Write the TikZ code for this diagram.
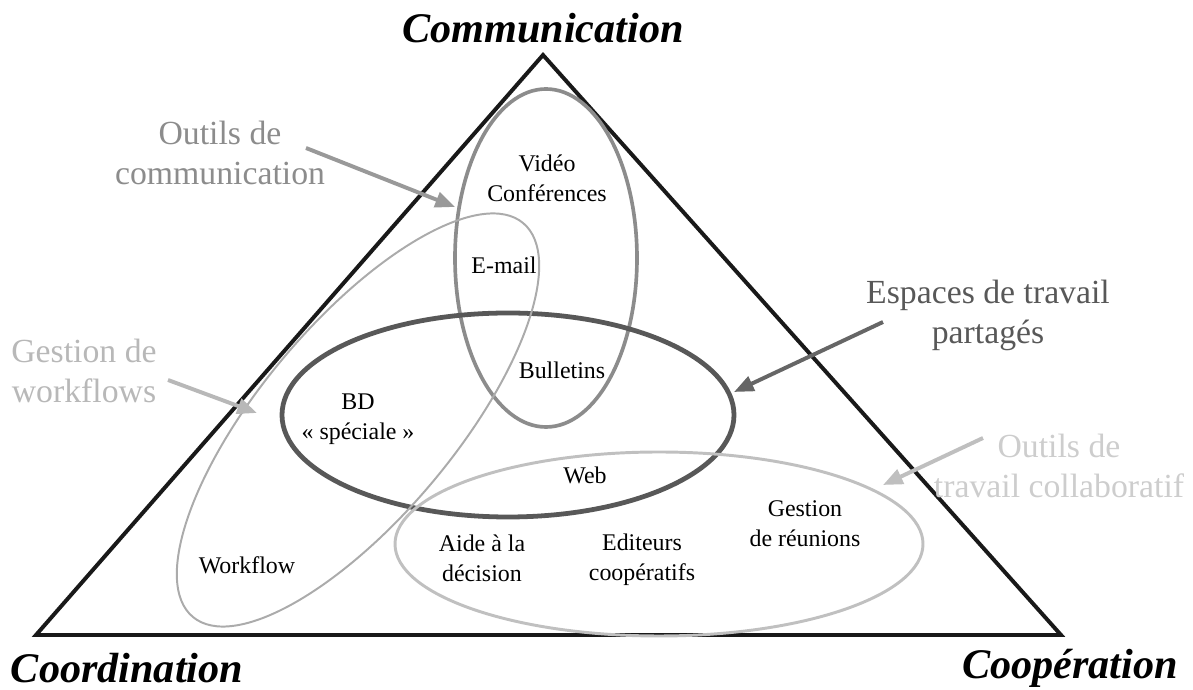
\documentclass[tikz,border=0pt]{standalone}
\usepackage{fontspec}
\setmainfont{Liberation Serif}
\usetikzlibrary{arrows.meta}

\definecolor{commgray}{HTML}{8C8C8C}
\definecolor{sharedgray}{HTML}{585858}
\definecolor{flowgray}{HTML}{ABABAB}
\definecolor{collabgray}{HTML}{C0C0C0}

\begin{document}
\begin{tikzpicture}[
        x=0.025cm, y=0.025cm,
        corner/.style={font=\fontsize{30}{34}\selectfont\bfseries\itshape},
        tool/.style={align=center, font=\fontsize{17}{21.3}\selectfont},
        family/.style={align=center, font=\fontsize{24}{28.5}\selectfont},
        pointer/.style={-{Triangle[length=14pt, width=11pt]}, line width=2.8pt}
    ]
        \useasboundingbox (0,0) rectangle (1193,690);

        % Triangle
        \coordinate (top) at (543,635);
        \coordinate (left) at (36,55);
        \coordinate (right) at (1061,55);
        \draw[line width=2.8pt, line join=miter, color=black!90] (top) -- (left) -- (right) -- cycle;
        \node[corner] (communication) at (543,662) {Communication};
        \node[corner] (coordination) at (127,22) {Coordination};
        \node[corner] (cooperation) at (1070,22) {Coopération};

        % Ellipses
        \draw[commgray, line width=2.6pt] (546,432) ellipse [x radius=91, y radius=169];
        \draw[sharedgray, line width=3.4pt] (508,275) ellipse [x radius=226, y radius=102];
        \draw[flowgray, line width=1.4pt] (358,270) ellipse [x radius=257, y radius=97, rotate=50];
        \draw[collabgray, line width=2.1pt] (659,146) ellipse [x radius=264, y radius=92];

        % Tools
        \node[tool] (video) at (547,512) {Vidéo\\Conférences};
        \node[tool] (email) at (504,425) {E-mail};
        \node[tool] (bulletins) at (562,320) {Bulletins};
        \node[tool] (bd) at (358,271) {BD\\« spéciale »};
        \node[tool] (web) at (585,215) {Web};
        \node[tool] (aide) at (482,132) {Aide à la\\décision};
        \node[tool] (editeurs) at (642,130) {Editeurs\\coopératifs};
        \node[tool] (reunions) at (805,166) {Gestion\\de réunions};
        \node[tool] (workflow) at (247,125) {Workflow};

        % Families
        \node[family, text=commgray] (outcomm) at (220,537) {Outils de\\communication};
        \node[family, text=sharedgray] (espaces) at (988,375) {Espaces de travail\\partagés};
        \node[family, text=flowgray!85] (gestflow) at (84,319) {Gestion de\\workflows};
        \node[family, text=collabgray!80] (outcollab) at (1059,224) {Outils de\\travail collaboratif};

        % Arrows
        \coordinate (commfrom) at (306,542);
        \coordinate (commto) at (455,483);
        \coordinate (espfrom) at (883,368);
        \coordinate (espto) at (734,298);
        \coordinate (flowfrom) at (168,310);
        \coordinate (flowto) at (257,277);
        \coordinate (collabfrom) at (983,252);
        \coordinate (collabto) at (883,205);
        \draw[pointer, color=black!40] (commfrom) -- (commto);
        \draw[pointer, color=black!60] (espfrom) -- (espto);
        \draw[pointer, color=black!28] (flowfrom) -- (flowto);
        \draw[pointer, color=black!25] (collabfrom) -- (collabto);

    \end{tikzpicture}
\end{document}
